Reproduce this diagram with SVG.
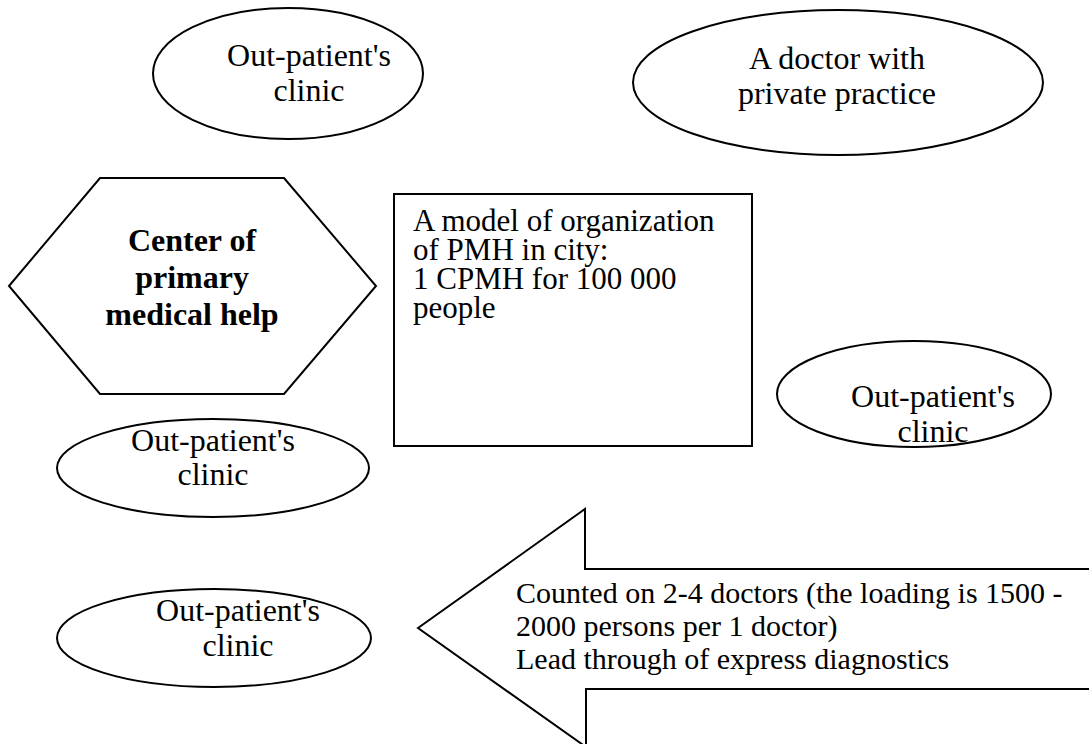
<svg xmlns="http://www.w3.org/2000/svg" width="1089" height="744" viewBox="0 0 1089 744">
  <style>
    .shape { fill: #ffffff; stroke: #000000; stroke-width: 2; }
    text { font-family: 'Liberation Serif', 'Times New Roman', serif; fill: #000000; }
    .mid { text-anchor: middle; }
    .bold { font-weight: bold; }
  </style>
  <rect x="0" y="0" width="1089" height="744" fill="#ffffff"/>

  <!-- no connectors are drawn between the shapes -->
  <g id="connectors"></g>

  <g id="clinic-top" font-size="32">
    <ellipse class="shape" cx="288" cy="73.5" rx="135" ry="65.5"/>
    <text class="mid" x="309" y="66">Out-patient's</text>
    <text class="mid" x="309" y="101">clinic</text>
  </g>

  <g id="private-doctor" font-size="32">
    <ellipse class="shape" cx="838" cy="82.5" rx="205" ry="72.5"/>
    <text class="mid" x="837" y="69">A doctor with</text>
    <text class="mid" x="837" y="104">private practice</text>
  </g>

  <g id="center-pmh" font-size="32">
    <polygon class="shape" points="9,286 100,178 284,178 376,286 284,394 100,394"/>
    <text class="mid bold" x="192" y="251">Center of</text>
    <text class="mid bold" x="192" y="288">primary</text>
    <text class="mid bold" x="192" y="325">medical help</text>
  </g>

  <g id="city-model" font-size="31">
    <rect class="shape" x="394" y="194" width="358" height="252"/>
    <text x="413" y="231">A model of organization</text>
    <text x="413" y="260">of PMH in city:</text>
    <text x="413" y="289">1 CPMH for 100 000</text>
    <text x="413" y="318">people</text>
  </g>

  <g id="clinic-right" font-size="32">
    <ellipse class="shape" cx="914" cy="394" rx="137" ry="53"/>
    <text class="mid" x="933" y="407">Out-patient's</text>
    <text class="mid" x="933" y="442">clinic</text>
  </g>

  <g id="clinic-middle" font-size="32">
    <ellipse class="shape" cx="213" cy="468" rx="156" ry="49"/>
    <text class="mid" x="213" y="451">Out-patient's</text>
    <text class="mid" x="213" y="485">clinic</text>
  </g>

  <g id="clinic-bottom" font-size="32">
    <ellipse class="shape" cx="214" cy="638" rx="157" ry="49"/>
    <text class="mid" x="238" y="621">Out-patient's</text>
    <text class="mid" x="238" y="656">clinic</text>
  </g>

  <g id="staffing-arrow" font-size="30">
    <polygon class="shape" points="418,628 585,509 585,569 1095,569 1095,689 586,689 586,747"/>
    <text x="516" y="603">Counted on 2-4 doctors (the loading is 1500 -</text>
    <text x="516" y="636">2000 persons per 1 doctor)</text>
    <text x="516" y="669">Lead through of express diagnostics</text>
  </g>
</svg>
